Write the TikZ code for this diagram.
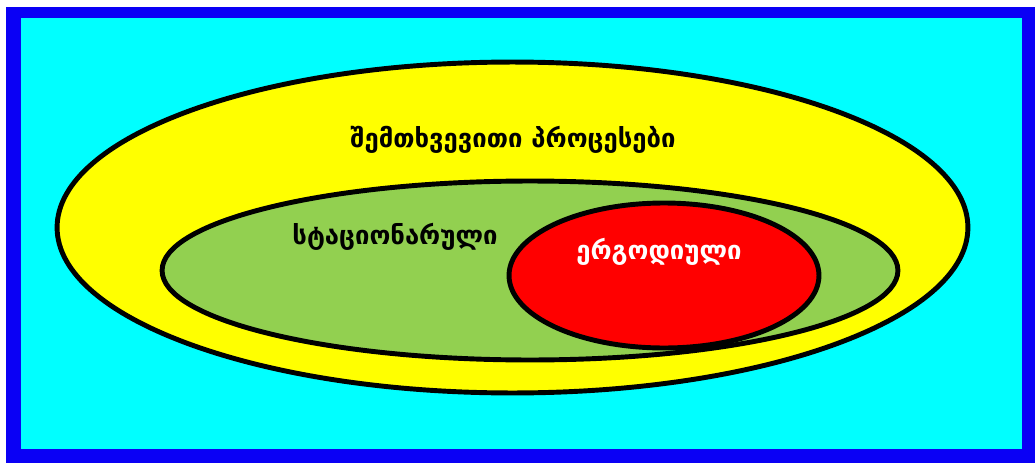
\documentclass[tikz,border=0pt]{standalone}
\usepackage{fontspec}
\usepackage{xcolor}
\usepackage{tikz}
\usetikzlibrary{shapes.geometric}
\newfontfamily\geofont[Script=Georgian]{DejaVu Sans}
\definecolor{framblue}{RGB}{10,0,245}
\definecolor{bgcyan}{RGB}{0,255,255}
\definecolor{setyellow}{RGB}{255,255,0}
\definecolor{setgreen}{RGB}{146,208,80}
\definecolor{setred}{RGB}{255,0,0}

\begin{document}
\begin{tikzpicture}[
    x=0.02cm, y=-0.02cm,
    set/.style={draw=black, line width=2.8pt, ellipse, inner sep=0pt},
    lbl/.style={font=\geofont\bfseries\fontsize{14.6}{17}\selectfont}
]
% --- Frame ---
\useasboundingbox (0,0) rectangle (1035,463);
\fill[white] (0,0) rectangle (1035,463);
\fill[framblue] (6,7) rectangle (1035,463);
\fill[bgcyan] (21,18) rectangle (1022,449);

% --- Sets ---
\node[set, fill=setyellow, minimum width=18.22cm, minimum height=6.62cm] (random) at (512.5,227.5) {};
\node[set, fill=setgreen, minimum width=14.72cm, minimum height=3.58cm] (stationary) at (530,270.5) {};
\node[set, fill=setred, minimum width=6.2cm, minimum height=2.9cm] (ergodic) at (664,275.5) {};

% Labels
\node[lbl] (randomlbl) at (513,140) {შემთხვევითი პროცესები};
\node[lbl] (stationarylbl) at (395,237) {სტაციონარული};
\node[lbl, text=white] (ergodiclbl) at (659,252) {ერგოდიული};

\end{tikzpicture}
\end{document}
